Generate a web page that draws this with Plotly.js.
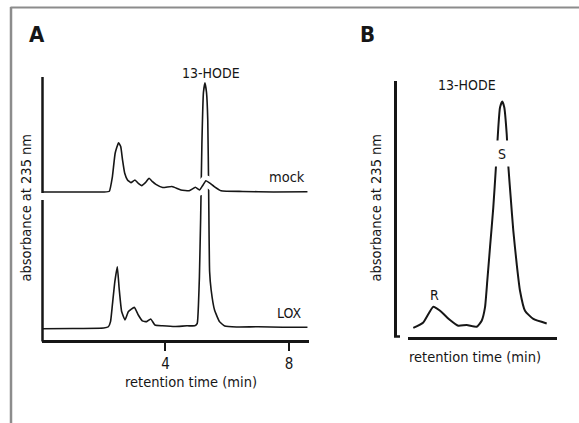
<!DOCTYPE html>
<html>
<head>
<meta charset="utf-8">
<script src="https://cdn.plot.ly/plotly-3.0.1.min.js"></script>
<style>
  html, body { margin: 0; padding: 0; background: #ffffff; }
  #chart { width: 579px; height: 423px; }
</style>
</head>
<body>
<div id="chart"></div>
<script>
// ---- Panel A: HPLC traces (retention time in min, absorbance in arbitrary units) ----
const loxTime = [0, 1.0, 2.0, 2.15, 2.22, 2.28, 2.36, 2.44, 2.5, 2.58, 2.69, 2.8, 2.99, 3.12, 3.25, 3.39, 3.52, 3.66, 3.9, 4.3, 4.7, 4.95, 5.03, 5.07, 5.1, 5.14, 5.18, 5.23, 5.28, 5.33, 5.37, 5.4, 5.43, 5.48, 5.59, 5.75, 5.92, 6.3, 7.0, 7.8, 8.6];
const loxAbs  = [-0.3, -0.2, 0, 0.5, 2.6, 9.4, 18.9, 25, 16, 6.7, 3.3, 6.7, 8.4, 5.3, 2.9, 2.6, 3.7, 1.2, 0.9, 0.6, 0.9, 0.9, 1.9, 10, 21, 45, 75, 96, 100, 96, 85, 55, 23, 15.5, 7.3, 2.6, 0.8, 0.4, 0.5, 0.3, 0.3];

const mockTime = [0, 1.0, 2.0, 2.18, 2.28, 2.37, 2.48, 2.55, 2.61, 2.68, 2.77, 2.88, 3.01, 3.12, 3.23, 3.35, 3.47, 3.58, 3.69, 3.91, 4.21, 4.5, 4.77, 4.97, 5.1, 5.2, 5.31, 5.45, 5.58, 5.8, 6.5, 7.5, 8.6];
const mockAbs  = [0, 0, 0, 0.3, 6.2, 15.8, 20.1, 18.5, 13, 7.6, 4.9, 3.8, 4.9, 3.5, 2.6, 3.8, 5.6, 4.2, 3.1, 1.8, 2.2, 0.8, 0.5, 1.9, 0.8, 2.5, 4.6, 3.5, 2.2, 0.5, 0.2, 0, 0.1];

const tickValsA = [4, 8];
const tickTextA = ["4", "8"];

// ---- Panel B: chiral-phase separation of 13-HODE ----
const chiralTime = [0.53, 1.53, 2.53, 3.2, 4.2, 5.03, 5.87, 6.87, 7.37, 7.7, 7.93, 8.2, 8.53, 8.8, 9.03, 9.2, 9.43, 9.63, 9.87, 10.03, 10.27, 10.53, 10.87, 11.2, 11.7, 12.53, 13.87];
const chiralAbs  = [3.5, 5.7, 12, 10.4, 6.7, 4.4, 4.7, 4.0, 6.4, 11.7, 22.4, 35.7, 51.7, 68.4, 83.7, 91.7, 94.1, 91.7, 81.1, 68.4, 55.7, 42.4, 29.1, 18.4, 10.4, 7.1, 5.3];

const FONT = "DejaVu Sans Condensed, Liberation Sans Narrow, sans-serif";
const INK = "#161616";
const W = 579, H = 423;
const px = v => v / W;
const py = v => 1 - v / H;

const traces = [
  { x: loxTime, y: loxAbs, xaxis: "x", yaxis: "y", mode: "lines", name: "LOX",
    line: { color: INK, width: 1.6, shape: "spline", smoothing: 0.4 }, hoverinfo: "x+y" },
  { x: mockTime, y: mockAbs, xaxis: "x", yaxis: "y2", mode: "lines", name: "mock halo",
    line: { color: "#ffffff", width: 11, shape: "spline", smoothing: 0.4 }, hoverinfo: "skip", showlegend: false },
  { x: mockTime, y: mockAbs, xaxis: "x", yaxis: "y2", mode: "lines", name: "mock",
    line: { color: INK, width: 1.6, shape: "spline", smoothing: 0.4 }, hoverinfo: "x+y" },
  { x: chiralTime, y: chiralAbs, xaxis: "x2", yaxis: "y3", mode: "lines", name: "13-HODE",
    line: { color: INK, width: 2, shape: "spline", smoothing: 0.5 }, hoverinfo: "x+y" }
];

const hidden = { showline: false, showticklabels: false, showgrid: false, zeroline: false, ticks: "" };

function label(text, x, y, size, extra) {
  return Object.assign({
    text: text, xref: "paper", yref: "paper", x: px(x), y: py(y),
    xanchor: "center", yanchor: "middle", showarrow: false,
    font: { family: FONT, size: size, color: INK }
  }, extra || {});
}

const layout = {
  width: W, height: H,
  margin: { l: 0, r: 0, t: 0, b: 0, pad: 0 },
  paper_bgcolor: "#ffffff", plot_bgcolor: "rgba(0,0,0,0)",
  showlegend: false,
  font: { family: FONT, color: INK, size: 15 },
  xaxis: {
    domain: [px(42), px(309)], range: [0, 8.65], anchor: "y",
    showline: true, linecolor: INK, linewidth: 3,
    ticks: "outside", tickvals: tickValsA, ticktext: tickTextA, ticklen: 8, tickwidth: 2, tickcolor: INK,
    tickfont: { family: FONT, size: 15, color: INK },
    showgrid: false, zeroline: false
  },
  yaxis: Object.assign({ domain: [py(340), py(77)], range: [-4.9, 102.4], anchor: "x" }, hidden),
  yaxis2: Object.assign({ overlaying: "y", range: [-60.4, 46.9], anchor: "x" }, hidden),
  xaxis2: {
    domain: [px(408), px(557)], range: [0, 14.9], anchor: "y3",
    showline: true, linecolor: INK, linewidth: 3,
    showticklabels: false, ticks: "", showgrid: false, zeroline: false
  },
  yaxis3: {
    domain: [py(336.7), py(80.7)], range: [0, 102.4], anchor: "free", position: px(395),
    showline: true, linecolor: INK, linewidth: 2.5,
    showticklabels: false, ticks: "", showgrid: false, zeroline: false
  },
  shapes: [
    // figure frame (top and left edges)
    { type: "line", xref: "paper", yref: "paper", x0: px(10.5), x1: 1, y0: py(7.5), y1: py(7.5), line: { color: "#8c8c8c", width: 2 } },
    { type: "line", xref: "paper", yref: "paper", x0: px(11), x1: px(11), y0: py(7), y1: 0, line: { color: "#8c8c8c", width: 2.5 } },
    // panel A broken y axis (one segment per trace)
    { type: "line", xref: "paper", yref: "paper", x0: px(42.5), x1: px(42.5), y0: py(77), y1: py(193), line: { color: INK, width: 2.5 } },
    { type: "line", xref: "paper", yref: "paper", x0: px(42.5), x1: px(42.5), y0: py(200), y1: py(341.5), line: { color: INK, width: 2.5 } },
    // panel B axis foot
    { type: "line", xref: "paper", yref: "paper", x0: px(394), x1: px(400), y0: py(336.5), y1: py(336.5), line: { color: INK, width: 2.5 } }
  ],
  annotations: [
    label("<b>A</b>", 36.5, 34, 22),
    label("<b>B</b>", 367.5, 34, 22),
    label("13-HODE", 211, 73, 14),
    label("mock", 287, 177, 14.5),
    label("LOX", 289, 313, 14),
    label("retention time (min)", 191, 382, 14.5),
    label("absorbance at 235 nm", 25, 207.5, 14.5, { textangle: -90 }),
    label("13-HODE", 467, 85, 14),
    label("R", 434.5, 295, 14),
    label("S", 502, 153, 14, { width: 18, height: 25, bgcolor: "#ffffff", borderpad: 0 }),
    label("retention time (min)", 475, 357, 14.5),
    label("absorbance at 235 nm", 375, 207.5, 14.5, { textangle: -90 })
  ]
};

Plotly.newPlot("chart", traces, layout, { staticPlot: true, displayModeBar: false });
</script>
</body>
</html>
